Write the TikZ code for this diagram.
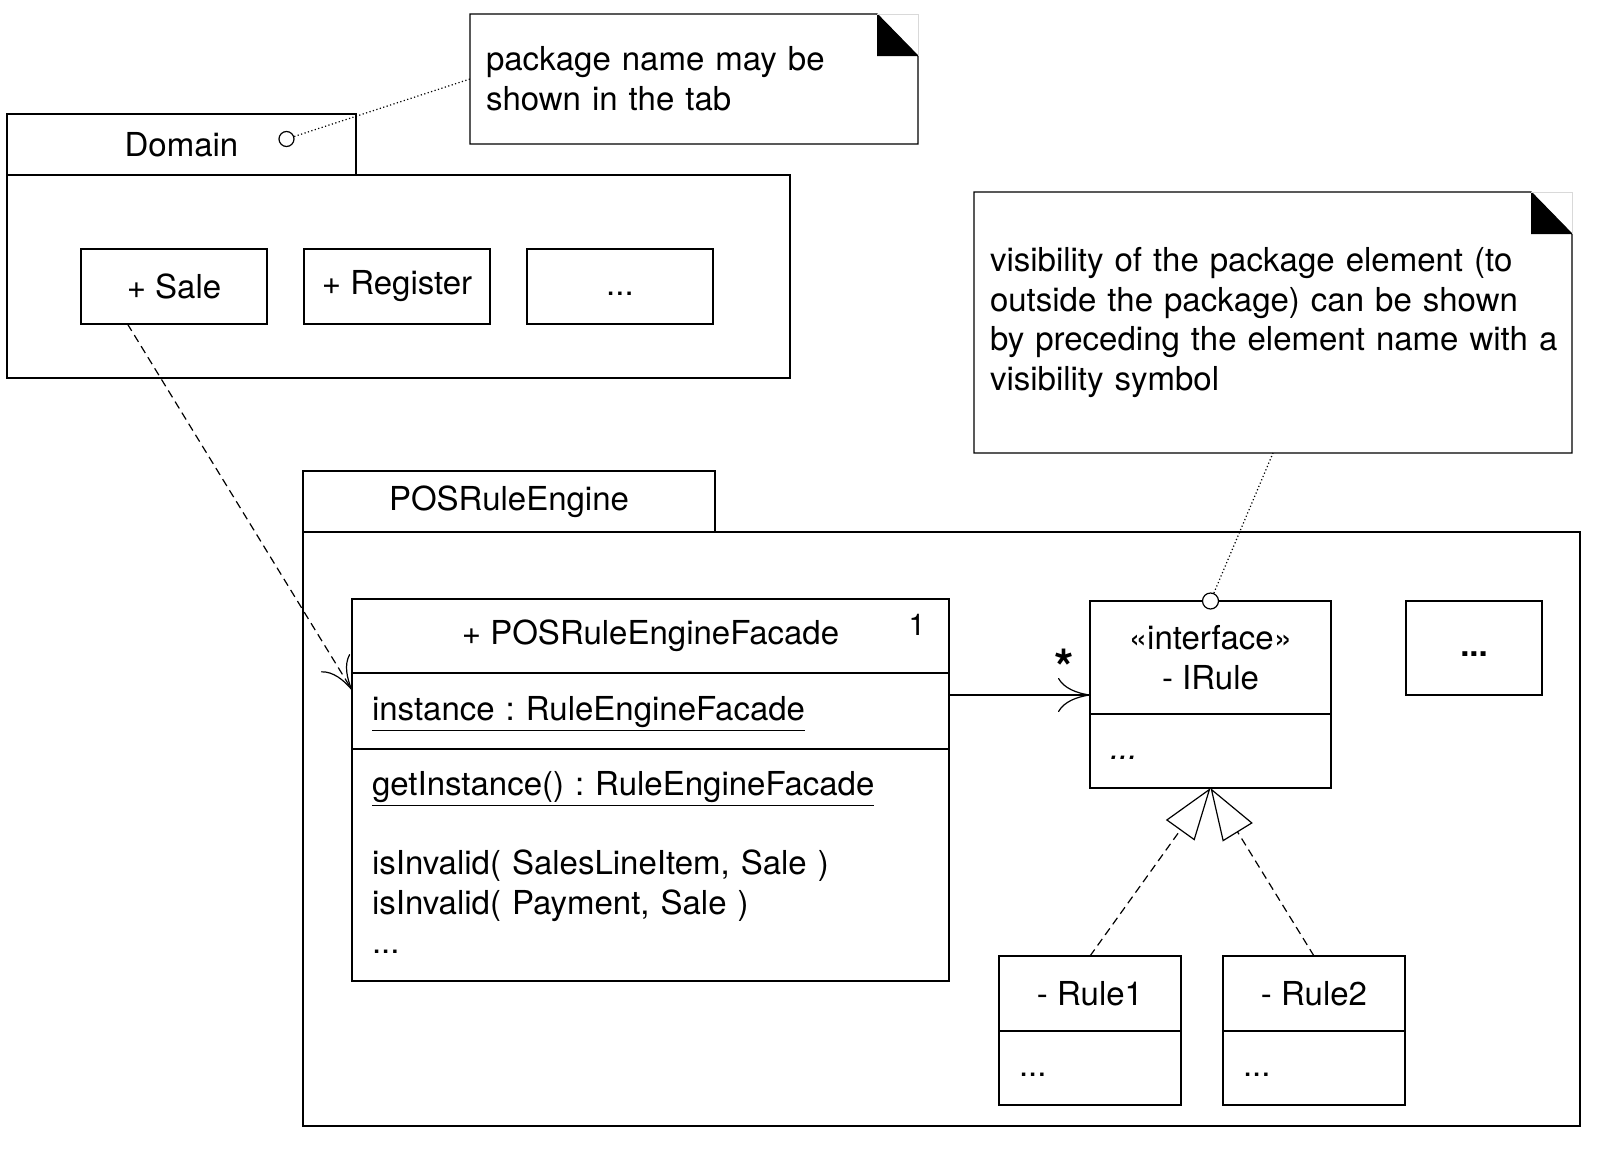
\documentclass[tikz,border=0pt]{standalone}
\usepackage{fontspec}
\setmainfont{TeX Gyre Heros}
\usetikzlibrary{arrows.meta,calc,positioning}

\tikzset{
  uml/.style={draw, line width=0.6pt, inner sep=0pt, outer sep=0pt, font=\fontsize{16.5}{19.8}\selectfont},
  cell/.style={uml, align=center},
  leftcell/.style={uml, align=left, inner xsep=10pt},
  dots/.style={text height=8.5pt, text depth=0pt},
  notebox/.style={inner sep=8pt, outer sep=0pt, align=left, anchor=north west, font=\fontsize{16.5}{19.8}\selectfont},
  pin/.style={circle, draw, fill=white, line width=0.6pt, inner sep=0pt, minimum size=8pt},
  dep/.style={line width=0.6pt, dash pattern=on 4pt off 2.5pt, -{Computer Modern Rightarrow[length=16pt,width=17pt]}},
  assoc/.style={line width=0.6pt, -{Computer Modern Rightarrow[length=16pt,width=17pt]}},
  realize/.style={line width=0.6pt, dash pattern=on 4pt off 2.5pt, -{Triangle[open,length=26pt,width=17.5pt]}},
  notelink/.style={line width=0.6pt, dash pattern=on 0.6pt off 1.2pt},
}

\begin{document}
\frenchspacing
\begin{tikzpicture}[x=0.5pt,y=-0.5pt]
\useasboundingbox (0,0) rectangle (1602,1152);

% package Domain
\node[cell, anchor=north west, minimum width=174.5pt, minimum height=30.5pt] (domaintab) at (7,114) {Domain};
\node[uml, anchor=north west, minimum width=391.5pt, minimum height=101.5pt] (domainbody) at (domaintab.south west) {};
\node[cell, anchor=north west, minimum width=93pt, minimum height=37.5pt] (sale) at (81,249) {+ Sale};
\node[cell, right=18.5pt of sale, minimum width=93pt, minimum height=37.5pt] (register) {+ Register};
\node[cell, dots, right=18.5pt of register, minimum width=93pt, minimum height=37.5pt] (domainmore) {...};
\node[pin, minimum size=7.5pt] (domainpin) at (286.5,139) {};

% note on the tab
\node[notebox, minimum width=224pt, minimum height=65pt, text width=208pt] (note1) at (470,14)
  {package name may be\\shown in the tab};
\draw[line width=0.6pt] (note1.north west) -- ([xshift=-20.5pt]note1.north east)
  -- ([yshift=-21pt]note1.north east) -- (note1.south east) -- (note1.south west) -- cycle;
\fill ([xshift=-20.5pt]note1.north east) -- ([xshift=-20.5pt,yshift=-21pt]note1.north east)
  -- ([yshift=-21pt]note1.north east) -- cycle;
\draw[black!15] ([xshift=-20.5pt]note1.north east) -- (note1.north east) -- ([yshift=-21pt]note1.north east);

% package POSRuleEngine
\node[cell, anchor=north west, minimum width=206pt, minimum height=30.5pt] (postab) at (303,471) {POSRuleEngine};
\node[uml, anchor=north west, minimum width=638.5pt, minimum height=297pt] (posbody) at (postab.south west) {};

% facade class
\node[cell, anchor=north west, minimum width=298.5pt, minimum height=37pt] (facadename) at (352,599) {+ POSRuleEngineFacade};
\node[leftcell, below=0pt of facadename, text width=278.5pt, minimum height=38pt] (facadeattr)
  {\rule{0pt}{15pt}\underline{instance : RuleEngineFacade}};
\node[leftcell, below=0pt of facadeattr, text width=278.5pt, minimum height=116pt] (facadeops)
  {\underline{getInstance() : RuleEngineFacade}\\[19.8pt]isInvalid( SalesLineItem, Sale )\\isInvalid( Payment, Sale )\\...\rule[-2.5pt]{0pt}{2.5pt}};
\node[inner sep=0pt, font=\fontsize{15}{17}\selectfont] (one) at (917,625) {1};

% interface IRule
\node[cell, anchor=north west, minimum width=120.5pt, minimum height=56.5pt] (irulename) at (1090,601) {«interface»\\- IRule};
\node[leftcell, dots, below=0pt of irulename, text width=100.5pt, minimum height=37pt] (iruleops) {\itshape ...};
\node[pin] (irulepin) at (irulename.north) {};
\node[inner sep=0pt, font=\fontsize{25}{27}\selectfont\bfseries] (star) at (1064,667) {*};

\node[cell, dots, anchor=north west, minimum width=68pt, minimum height=47pt, font=\fontsize{16.5}{19.8}\selectfont\bfseries] (posmore) at (1406,601) {...};

% rules
\node[cell, anchor=north west, minimum width=91pt, minimum height=37.5pt] (rule1name) at (999,956) {- Rule1};
\node[leftcell, dots, below=0pt of rule1name, text width=71pt, minimum height=37pt] (rule1ops) {...};
\node[cell, right=21pt of rule1name, minimum width=91pt, minimum height=37.5pt] (rule2name) {- Rule2};
\node[leftcell, dots, below=0pt of rule2name, text width=71pt, minimum height=37pt] (rule2ops) {...};

% note on visibility
\node[notebox, minimum width=299pt, minimum height=130.5pt, text width=283pt] (note2) at (974,192)
  {visibility of the package element (to\\outside the package) can be shown\\\mbox{by preceding the element name with a}\\visibility symbol};
\draw[line width=0.6pt] (note2.north west) -- ([xshift=-20.5pt]note2.north east)
  -- ([yshift=-21pt]note2.north east) -- (note2.south east) -- (note2.south west) -- cycle;
\fill ([xshift=-20.5pt]note2.north east) -- ([xshift=-20.5pt,yshift=-21pt]note2.north east)
  -- ([yshift=-21pt]note2.north east) -- cycle;
\draw[black!15] ([xshift=-20.5pt]note2.north east) -- (note2.north east) -- ([yshift=-21pt]note2.north east);

% connectors
\draw[dep] ($(sale.south west)!0.25!(sale.south east)$) -- ($(facadeattr.west)+(0pt,10.5pt)$);
\draw[assoc] ($(facadeattr.east)+(0pt,8pt)$) -- ($(irulename.west |- facadeattr.east)+(0pt,8pt)$);
\draw[realize] (rule1name.north) -- (iruleops.south);
\draw[realize] (rule2name.north) -- (iruleops.south);
\draw[notelink] (domainpin) -- (note1.west);
\draw[notelink] (irulepin) -- (note2.south);
\end{tikzpicture}
\end{document}
